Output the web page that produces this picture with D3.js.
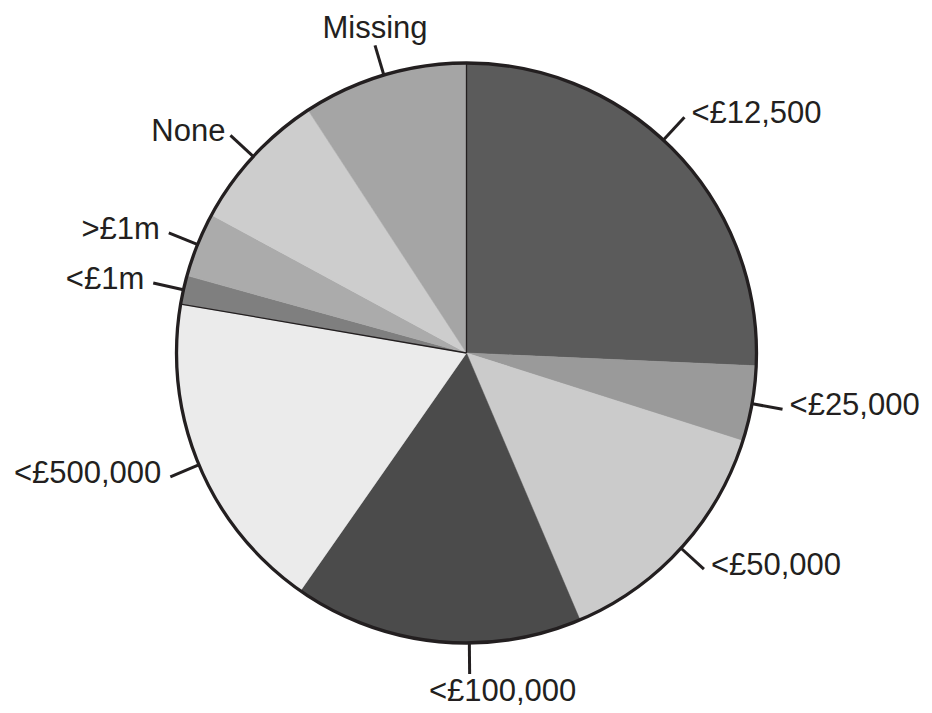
<!DOCTYPE html>
<html>
<head>
<meta charset="utf-8">
<script src="https://cdn.jsdelivr.net/npm/d3@7"></script>
<style>
  body { margin: 0; background: #fff; }
  text { font-family: "Liberation Sans", Arial, sans-serif; fill: #231f20; }
</style>
</head>
<body>
<div id="chart"></div>
<script>
// slice labels, clockwise from 12 o'clock
var categories = ["<£12,500", "<£25,000", "<£50,000", "<£100,000", "<£500,000", "<£1m", ">£1m", "None", "Missing"];
// share of respondents, per cent
var shares = [25.7, 4.2, 13.7, 16.1, 18.0, 1.6, 3.6, 7.9, 9.2];
// grey shade for each slice
var shades = ["#5b5b5b", "#9a9a9a", "#cbcbcb", "#4b4b4b", "#ebebeb", "#7f7f7f", "#ababab", "#cdcdcd", "#a5a5a5"];

var width = 932, height = 713;
var cx = 466.5, cy = 353, radius = 290;
var leaderLen = 31;

// small hand adjustments to a few labels (degrees / px), like the original
var labelTweak = {
  "<£12,500": {angle: -3.5, dx: 0},
  "<£100,000": {angle: -6.5, dx: 33},
  "None": {angle: 0, dx: 4}
};

var data = categories.map(function(c, i) { return {label: c, value: shares[i], color: shades[i]}; });

var svg = d3.select("#chart").append("svg")
    .attr("width", width)
    .attr("height", height);

var g = svg.append("g")
    .attr("transform", "translate(" + cx + "," + cy + ")");

var pie = d3.pie()
    .sort(null)
    .value(function(d) { return d.value; });

var arc = d3.arc()
    .innerRadius(0)
    .outerRadius(radius);

var arcs = pie(data);

g.selectAll(".slice")
    .data(arcs)
  .enter().append("path")
    .attr("class", "slice")
    .attr("d", arc)
    .style("fill", function(d) { return d.data.color; })
    .style("stroke", function(d) { return d.data.color; })
    .style("stroke-width", 0.5);

// the two dark dividing lines seen in the reference
var darkEdges = [arcs[0].startAngle, arcs[4].endAngle];
g.selectAll(".edge")
    .data(darkEdges)
  .enter().append("line")
    .attr("class", "edge")
    .attr("x1", 0).attr("y1", 0)
    .attr("x2", function(a) { return radius * Math.sin(a); })
    .attr("y2", function(a) { return -radius * Math.cos(a); })
    .style("stroke", "#231f20")
    .style("stroke-width", 1.3);

// outer rim
g.append("circle")
    .attr("r", radius)
    .style("fill", "none")
    .style("stroke", "#231f20")
    .style("stroke-width", 3.3);

function labelAngle(d) {
  var a = (d.startAngle + d.endAngle) / 2;
  var t = labelTweak[d.data.label];
  if (t) a += t.angle * Math.PI / 180;
  return a;
}

var labels = g.selectAll(".lab")
    .data(arcs)
  .enter().append("g")
    .attr("class", "lab");

labels.append("line")
    .attr("x1", function(d) { return (radius - 1) * Math.sin(labelAngle(d)); })
    .attr("y1", function(d) { return -(radius - 1) * Math.cos(labelAngle(d)); })
    .attr("x2", function(d) { return (radius + leaderLen) * Math.sin(labelAngle(d)); })
    .attr("y2", function(d) { return -(radius + leaderLen) * Math.cos(labelAngle(d)); })
    .style("stroke", "#231f20")
    .style("stroke-width", 3);

labels.append("text")
    .text(function(d) { return d.data.label; })
    .style("font-size", "31px")
    .attr("text-anchor", function(d) {
      var s = Math.sin(labelAngle(d));
      if (s > 0.3) return "start";
      if (s < -0.3) return "end";
      return "middle";
    })
    .attr("x", function(d) {
      var a = labelAngle(d), s = Math.sin(a);
      var x = (radius + leaderLen) * s;
      if (s > 0.3) x += 7;
      else if (s < -0.3) x -= 9;
      var t = labelTweak[d.data.label];
      if (t) x += t.dx;
      return x;
    })
    .attr("y", function(d) {
      var a = labelAngle(d), c = Math.cos(a);
      var y = -(radius + leaderLen) * c;
      if (c > 0.9) return y - 7;
      if (c < -0.9) return y + 27;
      return y + 6;
    });
</script>
</body>
</html>
